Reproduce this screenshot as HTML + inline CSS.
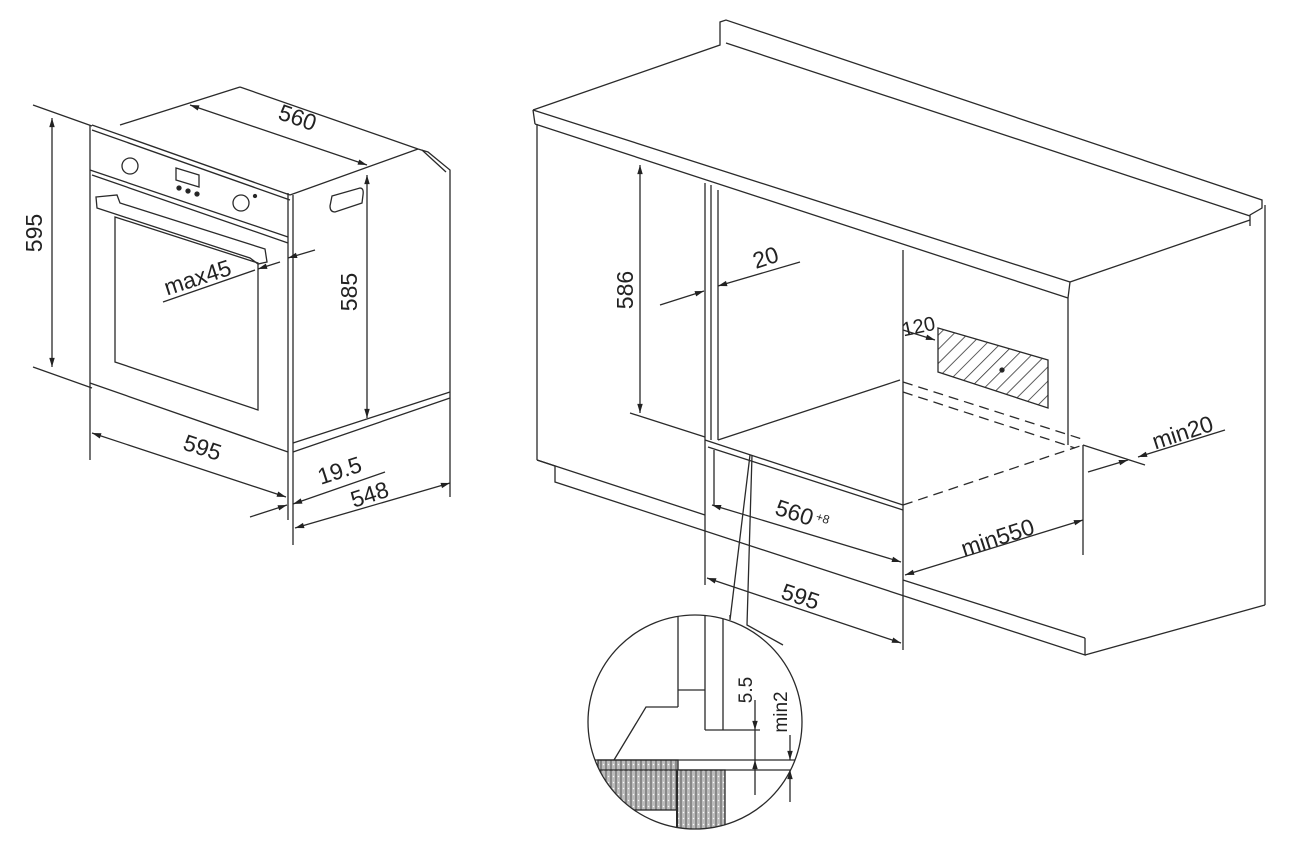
<!DOCTYPE html>
<html><head><meta charset="utf-8"><style>
html,body{margin:0;padding:0;background:#fff;}
svg{display:block;}
text{font-family:"Liberation Sans",Arial,sans-serif;font-size:23px;fill:#222;}
</style></head><body>
<svg width="1289" height="851" viewBox="0 0 1289 851" xmlns="http://www.w3.org/2000/svg">
<defs>
<marker id="a" viewBox="0 0 10 10" refX="10" refY="5" markerWidth="9" markerHeight="7" orient="auto-start-reverse"><path d="M0,2 L10,5 L0,8 z" fill="#222"/></marker>
<pattern id="h" width="10" height="10" patternUnits="userSpaceOnUse" patternTransform="rotate(45)"><line x1="0" y1="0" x2="0" y2="10" stroke="#333" stroke-width="1.6"/></pattern>
<pattern id="s" width="5" height="6" patternUnits="userSpaceOnUse"><rect width="5" height="6" fill="#bbb"/><line x1="1" y1="0" x2="1" y2="6" stroke="#555" stroke-width="1"/><line x1="3" y1="2" x2="4" y2="3" stroke="#fff" stroke-width="1"/></pattern>
</defs>
<g stroke="#2a2a2a" stroke-width="1.3" fill="none">
<line x1="33" y1="105" x2="92" y2="126"/>
<line x1="33" y1="367" x2="92" y2="388"/>
<line x1="52" y1="118" x2="52" y2="367" marker-start="url(#a)" marker-end="url(#a)"/>
<line x1="90" y1="125" x2="90" y2="460"/>
<line x1="92" y1="125" x2="290" y2="195"/>
<line x1="92" y1="130" x2="290" y2="200"/>
<line x1="90" y1="383" x2="288" y2="452"/>
<line x1="288" y1="193" x2="288" y2="520"/>
<line x1="293" y1="195" x2="293" y2="545"/>
<line x1="90" y1="170" x2="288" y2="237"/>
<line x1="92" y1="175" x2="288" y2="243"/>
<line x1="120" y1="125" x2="240" y2="87"/>
<line x1="240" y1="87" x2="418" y2="149"/>
<line x1="290" y1="195" x2="418" y2="149"/>
<polyline points="418,149 428,152 450,170 450,497"/>
<polyline points="422,150 446,172"/>
<line x1="293" y1="443" x2="450" y2="392"/>
<line x1="293" y1="452" x2="450" y2="398"/>
<line x1="190" y1="105" x2="367" y2="165" marker-start="url(#a)" marker-end="url(#a)"/>
<line x1="367" y1="175" x2="367" y2="418" marker-start="url(#a)" marker-end="url(#a)"/>
<path d="M332,196 L360,188 Q364,188 363,195 L362,203 L335,212 Q330,212 330,206 Z"/>
<circle cx="130" cy="166" r="8"/>
<circle cx="241" cy="203" r="8"/>
<circle cx="255" cy="196" r="1.5" fill="#222"/>
<polygon points="176,168 199,175 199,187 176,180"/>
<circle cx="179" cy="188" r="2" fill="#222"/><circle cx="188" cy="191" r="2" fill="#222"/><circle cx="197" cy="194" r="2" fill="#222"/>
<polygon points="115,217 258,263 258,410 115,362"/>
<polygon points="96,197 117,195 120,203 265,249 267,262 258,264 250,258 97,208"/>
<line x1="163" y1="302" x2="255" y2="270"/>
<line x1="258" y1="269" x2="280" y2="262" marker-start="url(#a)"/>
<line x1="288" y1="258" x2="315" y2="250" marker-start="url(#a)"/>
<line x1="92" y1="433" x2="286" y2="497" marker-start="url(#a)" marker-end="url(#a)"/>
<line x1="250" y1="517" x2="287" y2="505" marker-end="url(#a)"/>
<line x1="293" y1="504" x2="385" y2="472" marker-start="url(#a)"/>
<line x1="295" y1="528" x2="450" y2="483" marker-start="url(#a)" marker-end="url(#a)"/>
</g>
<text transform="translate(42,233) rotate(-90)" text-anchor="middle">595</text>
<text transform="translate(295,125) rotate(19)" text-anchor="middle">560</text>
<text transform="translate(357,292) rotate(-90)" text-anchor="middle">585</text>
<text transform="translate(200,285) rotate(-18)" text-anchor="middle">max45</text>
<text transform="translate(200,455) rotate(18)" text-anchor="middle">595</text>
<text transform="translate(342,478) rotate(-18)" text-anchor="middle">19.5</text>
<text transform="translate(372,502) rotate(-18)" text-anchor="middle">548</text>

<g stroke="#2a2a2a" stroke-width="1.3" fill="none">
<polyline points="533,110 720,45 720,22 726,20 1262,200 1262,208 1250,215 1250,226"/>
<line x1="726" y1="43" x2="1250" y2="216"/>
<line x1="533" y1="110" x2="1070" y2="282"/>
<line x1="533" y1="110" x2="535" y2="124"/>
<line x1="535" y1="124" x2="1068" y2="298"/>
<line x1="1070" y1="282" x2="1068" y2="298"/>
<line x1="1070" y1="282" x2="1250" y2="220"/>
<line x1="537" y1="124" x2="537" y2="460"/>
<line x1="1068" y1="298" x2="1068" y2="445"/>
<line x1="1265" y1="205" x2="1265" y2="605"/>
<polyline points="537,460 555,466 555,482 1085,655 1085,638"/>
<line x1="1085" y1="655" x2="1265" y2="605"/>
<line x1="537" y1="460" x2="705" y2="515"/>
<line x1="903" y1="580" x2="1085" y2="638"/>
<line x1="705" y1="183" x2="705" y2="585"/>
<line x1="711" y1="185" x2="711" y2="440"/>
<line x1="718" y1="190" x2="718" y2="440"/>
<line x1="903" y1="250" x2="903" y2="650"/>
<line x1="718" y1="440" x2="900" y2="380"/>
<line x1="705" y1="440" x2="903" y2="505"/>
<line x1="708" y1="447" x2="903" y2="510"/>
<line x1="714" y1="450" x2="714" y2="505"/>
<line x1="903" y1="382" x2="1085" y2="440" stroke-dasharray="10,6"/>
<line x1="903" y1="392" x2="1075" y2="448" stroke-dasharray="10,6"/>
<line x1="903" y1="505" x2="1083" y2="445" stroke-dasharray="10,6"/>
<line x1="1083" y1="445" x2="1083" y2="555"/>
<line x1="1083" y1="445" x2="1145" y2="465"/>
<line x1="630" y1="413" x2="705" y2="437"/>
<line x1="640" y1="165" x2="640" y2="413" marker-start="url(#a)" marker-end="url(#a)"/>
<line x1="660" y1="305" x2="704" y2="291" marker-end="url(#a)"/>
<line x1="718" y1="286" x2="800" y2="262" marker-start="url(#a)"/>
<line x1="903" y1="330" x2="935" y2="340" marker-end="url(#a)"/>
<polygon points="938,328 1048,360 1048,408 938,372" fill="url(#h)"/>
<circle cx="1002" cy="370" r="2" fill="#222"/>
<line x1="1088" y1="472" x2="1128" y2="460" marker-end="url(#a)"/>
<line x1="1138" y1="457" x2="1225" y2="430" marker-start="url(#a)"/>
<line x1="905" y1="575" x2="1083" y2="520" marker-start="url(#a)" marker-end="url(#a)"/>
<line x1="712" y1="505" x2="901" y2="562" marker-start="url(#a)" marker-end="url(#a)"/>
<line x1="707" y1="578" x2="901" y2="643" marker-start="url(#a)" marker-end="url(#a)"/>
<polyline points="750,455 730,620 730,615"/>
<polyline points="752,455 747,625 783,645"/>
</g>
<text transform="translate(633,290) rotate(-90)" text-anchor="middle">586</text>
<text transform="translate(768,265) rotate(-18)" text-anchor="middle">20</text>
<text transform="translate(920,333) rotate(-12)" text-anchor="middle" style="font-size:20px">120</text>
<text transform="translate(1185,440) rotate(-18)" text-anchor="middle">min20</text>
<text transform="translate(1000,545) rotate(-18)" text-anchor="middle">min550</text>
<text transform="translate(792,520) rotate(18)" text-anchor="middle">560</text>
<text transform="translate(815,520) rotate(18)" style="font-size:12px">+8</text>
<text transform="translate(798,604) rotate(18)" text-anchor="middle">595</text>

<clipPath id="c"><circle cx="695" cy="722" r="107"/></clipPath>
<g clip-path="url(#c)" stroke="#2a2a2a" stroke-width="1.3" fill="none">
<rect x="598" y="760" width="80" height="50" fill="url(#s)"/>
<rect x="677" y="770" width="48" height="60" fill="url(#s)"/>
<line x1="677" y1="770" x2="677" y2="830" stroke-width="2"/>
<line x1="678" y1="600" x2="678" y2="707"/>
<line x1="705" y1="600" x2="705" y2="730"/>
<line x1="723" y1="600" x2="723" y2="730"/>
<line x1="678" y1="690" x2="705" y2="690"/>
<polyline points="678,707 646,707 614,760"/>
<line x1="705" y1="730" x2="760" y2="730"/>
<line x1="590" y1="760" x2="810" y2="760"/>
<line x1="590" y1="770" x2="810" y2="770"/>
</g>
<g stroke="#2a2a2a" stroke-width="1.3" fill="none">
<circle cx="695" cy="722" r="107"/>
<line x1="755" y1="700" x2="755" y2="730" marker-end="url(#a)"/>
<line x1="755" y1="795" x2="755" y2="760" marker-end="url(#a)"/>
<line x1="755" y1="730" x2="755" y2="760"/>
<line x1="790" y1="735" x2="790" y2="760" marker-end="url(#a)"/>
<line x1="790" y1="802" x2="790" y2="770" marker-end="url(#a)"/>
</g>
<text transform="translate(752,690) rotate(-90)" text-anchor="middle" style="font-size:19px">5.5</text>
<text transform="translate(787,712) rotate(-90)" text-anchor="middle" style="font-size:19px">min2</text>
</svg>
</body></html>
